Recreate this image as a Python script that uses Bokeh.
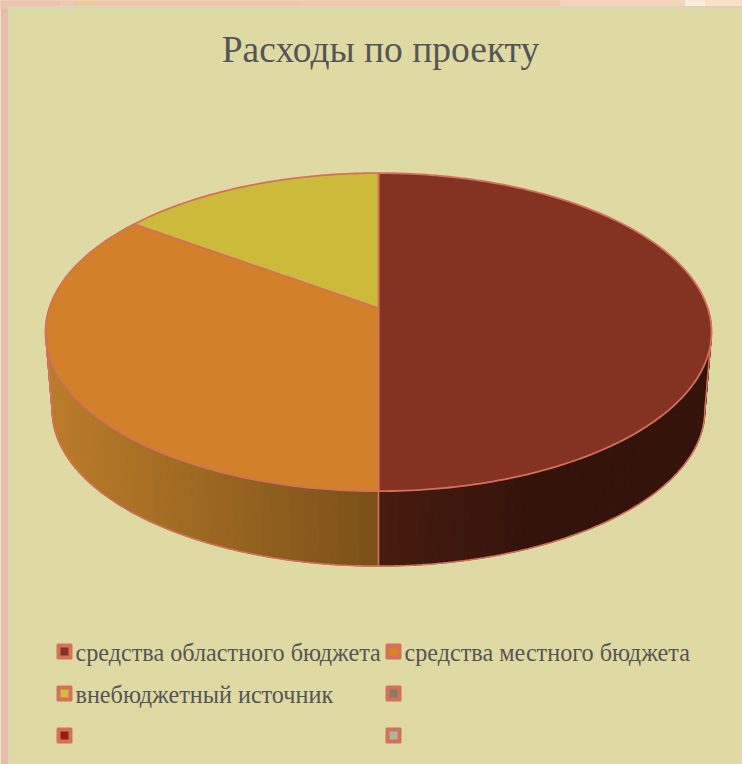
import math
from bokeh.plotting import figure
from bokeh.models import Range1d
from bokeh.core.properties import value
from bokeh.embed import file_html
from bokeh.resources import INLINE

title = "Расходы по проекту"
categories = ["средства областного бюджета", "средства местного бюджета", "внебюджетный источник", "", "", ""]
shares = [50, 35, 15]
pie_colors = ["#843222", "#d2812a", "#ccba3a"]
legend_colors = ["#843222", "#d8861c", "#d0bc38", "#857f68", "#981e08", "#aeb698"]
side_left = [(0x47, 0x1c, 0x10), (0x7a, 0x50, 0x18)]
side_right = [(0x34, 0x13, 0x0a), (0xbb, 0x7c, 0x2a)]
strip_colors = ["#ecc4ac", "#efc8ae", "#eec99a", "#efc8ac", "#f0c8ac", "#f3d4b8", "#fbeeda", "#fde0c4"]
strip_edges = [0, 60, 75, 95, 300, 560, 685, 705, 742]

PANEL = "#dfdaa3"
EDGE = "#d4715d"
TEXT = "#555555"
PANEL_EDGE = "#dcd3c4"
PEACH = "#e6bda6"

W, H = 742, 764
p = figure(width=W, height=H, output_backend="svg", toolbar_location=None,
           x_range=Range1d(0, W), y_range=Range1d(H, 0),
           min_border=0, outline_line_color=None,
           background_fill_color=PEACH, border_fill_color=PEACH)
p.axis.visible = False
p.grid.visible = False

# page backdrop and panel
p.quad(left=strip_edges[:-1], right=strip_edges[1:], top=[0] * 8, bottom=[8] * 8,
       fill_color=strip_colors, line_color=strip_colors)
p.quad(left=[7.5], right=[W + 2], top=[5.5], bottom=[H + 2], fill_color=PANEL_EDGE, line_color=None)
p.quad(left=[9.5], right=[W + 2], top=[7.5], bottom=[H + 2], fill_color=PANEL, line_color=None)

CX, CY, A, B, K = 378.0, 307.6, 329.2, 155.4, 0.151
S, DROP = 0.98, 78.6


def top(theta):
    u, v = math.sin(theta), math.cos(theta)
    d = 1 + K * v
    return CX + A * u / d, CY - B * v / d


def bottom(theta):
    x, y = top(theta)
    return CX + S * (x - CX), CY + DROP + S * (y - CY)


def mix(c0, c1, t):
    return "#%02x%02x%02x" % tuple(round(a + (b - a) * t) for a, b in zip(c0, c1))


total = sum(shares)
edges = [0.0]
for s in shares:
    edges.append(edges[-1] + 2 * math.pi * s / total)

# side wall with a horizontal gradient, one quad per step
n = 120
t0, t1 = math.radians(90), math.radians(270)
side_xs, side_ys, side_c = [], [], []
for i in range(n):
    a, b = t0 + (t1 - t0) * i / n, t0 + (t1 - t0) * (i + 1) / n
    (x1, y1), (x2, y2) = top(a), top(b)
    (x3, y3), (x4, y4) = bottom(b), bottom(a)
    side_xs.append([x1, x2, x3, x4])
    side_ys.append([y1, y2, y3, y4])
    mx = (x1 + x2) / 2
    if (a + b) / 2 < edges[1]:
        t = min(1.0, (mx - CX) / 150)
        side_c.append(mix(side_left[0], side_right[0], t))
    else:
        t = (CX - mx) / 330
        side_c.append(mix(side_left[1], side_right[1], t))
p.patches(side_xs, side_ys, fill_color=side_c, line_color=side_c, line_width=1)

# wall outlines
rim = [math.radians(98.7 + (261.3 - 98.7) * i / 200) for i in range(201)]
bx = [bottom(t)[0] for t in rim]
by = [bottom(t)[1] for t in rim]
tr, tl = rim[0], rim[-1]
p.line([top(tr)[0]] + bx + [top(tl)[0]], [top(tr)[1]] + by + [top(tl)[1]],
       line_color=EDGE, line_width=1.6)
sx, sy = top(edges[1]), bottom(edges[1])
p.line([sx[0], sy[0]], [sx[1], sy[1]], line_color=EDGE, line_width=1.6)

# top face
for i, col in enumerate(pie_colors):
    steps = max(2, int((edges[i + 1] - edges[i]) * 60))
    pts = [top(edges[i] + (edges[i + 1] - edges[i]) * j / steps) for j in range(steps + 1)]
    xs = [CX] + [q[0] for q in pts]
    ys = [CY] + [q[1] for q in pts]
    p.patch(xs, ys, fill_color=col, line_color=EDGE, line_width=1.8, line_join="round")

# title
p.text([380], [49], text=[title], text_font=value("Liberation Serif"), text_font_size="37.5px",
       text_color=TEXT, text_align="center", text_baseline="alphabetic")

# legend
lx = [64, 393, 64, 393, 64, 393]
ly = [651, 651, 693, 693, 735, 735]
p.scatter(lx, ly, marker="square", size=13, fill_color=EDGE, line_color=EDGE, line_width=3,
          line_join="round", fill_alpha=1)
p.scatter(lx, ly, marker="square", size=8, fill_color=legend_colors, line_color=None)
tx, ty, tt = [], [], []
for x, y, c in zip(lx, ly, categories):
    if c:
        tx.append(x + 11)
        ty.append(y + 1)
        tt.append(c)
p.text(tx, ty, text=tt, text_font=value("Liberation Serif"), text_font_size="24.2px",
       text_color=TEXT, text_align="left", text_baseline="alphabetic")

open("out.html", "w").write(file_html(p, INLINE))
